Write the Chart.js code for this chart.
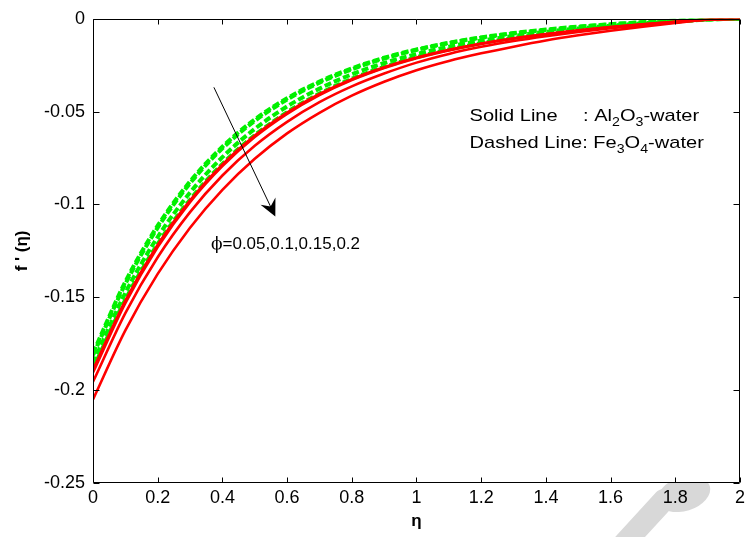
<!DOCTYPE html>
<html>
<head>
<meta charset="utf-8">
<script src="https://cdn.jsdelivr.net/npm/chart.js@4"></script>
<style>
  html, body { margin: 0; padding: 0; background: #fff; }
  canvas { display: block; }
</style>
</head>
<body>
<canvas id="velocityChart" width="749" height="537"></canvas>
<script>
// eta grid and f'(eta) values
const eta = [0, 0.1, 0.2, 0.3, 0.4, 0.5, 0.6, 0.7, 0.8, 0.9, 1.0,
             1.1, 1.2, 1.3, 1.4, 1.5, 1.6, 1.7, 1.8, 1.9, 2.0];

// Al2O3-water, solid red, phi = 0.05, 0.1, 0.15, 0.2
const alPhi005 = [-0.189, -0.1517, -0.1217, -0.0977, -0.0784, -0.0629, -0.0505, -0.0405, -0.0325, -0.0261, -0.0209,
                  -0.0167, -0.0133, -0.0105, -0.0082, -0.0062, -0.0044, -0.0029, -0.0016, -0.0004, 0];
const alPhi01  = [-0.1905, -0.1531, -0.1229, -0.0987, -0.0793, -0.0637, -0.0512, -0.0411, -0.033, -0.0265, -0.0212,
                  -0.017, -0.0135, -0.0107, -0.0084, -0.0063, -0.0045, -0.003, -0.0016, -0.0004, 0];
const alPhi015 = [-0.1955, -0.1585, -0.1284, -0.1041, -0.0844, -0.0684, -0.0555, -0.0449, -0.0364, -0.0295, -0.0236,
                  -0.0189, -0.0151, -0.012, -0.0094, -0.0071, -0.0051, -0.0034, -0.0019, -0.0005, 0];
const alPhi02  = [-0.205, -0.1678, -0.1374, -0.1125, -0.0921, -0.0754, -0.0617, -0.0506, -0.0414, -0.0339, -0.0277,
                  -0.0227, -0.0186, -0.015, -0.0117, -0.0089, -0.0064, -0.0042, -0.0022, -0.0005, 0];

// Fe3O4-water, dashed green, phi = 0.05, 0.1, 0.15, 0.2
const fePhi005 = [-0.18, -0.1416, -0.1114, -0.0876, -0.0689, -0.0542, -0.0428, -0.0338, -0.0267, -0.021, -0.0165,
                  -0.0129, -0.01, -0.0077, -0.0058, -0.0042, -0.0029, -0.0018, -0.0009, -0.0002, 0];
const fePhi01  = [-0.1812, -0.1428, -0.1125, -0.0886, -0.0698, -0.055, -0.0435, -0.0344, -0.0272, -0.0214, -0.0168,
                  -0.0131, -0.0102, -0.0079, -0.006, -0.0044, -0.003, -0.0019, -0.001, -0.0002, 0];
const fePhi015 = [-0.1854, -0.1476, -0.1175, -0.0936, -0.0745, -0.0593, -0.0472, -0.0376, -0.0299, -0.0238, -0.019,
                  -0.015, -0.0118, -0.0092, -0.007, -0.0052, -0.0037, -0.0024, -0.0013, -0.0004, 0];
const fePhi02  = [-0.1885, -0.1512, -0.1213, -0.0974, -0.0781, -0.0627, -0.0503, -0.0403, -0.0323, -0.0259, -0.0207,
                  -0.0165, -0.0131, -0.0103, -0.008, -0.006, -0.0043, -0.0028, -0.0015, -0.0004, 0];

// tick labels as printed on the axes
const xTickLabels = ['0', '0.2', '0.4', '0.6', '0.8', '1', '1.2', '1.4', '1.6', '1.8', '2'];
const yTickLabels = ['-0.25', '-0.2', '-0.15', '-0.1', '-0.05', '0'];

const FONT = '"Liberation Sans", Arial, sans-serif';

// pairs eta with a series for the linear x scale
function toPoints(values) {
    return values.map((v, i) => ({ x: eta[i], y: v }));
}

function solid(values) {
    return { data: toPoints(values), borderColor: '#ff0000', borderWidth: 2.6,
             pointRadius: 0, fill: false, cubicInterpolationMode: 'monotone' };
}
function dashed(values) {
    return { data: toPoints(values), borderColor: '#00f000', borderWidth: 4, borderDash: [7, 3],
             pointRadius: 0, fill: false, cubicInterpolationMode: 'monotone' };
}

// text with sub-scripts, slightly stretched sideways like the original figure
function drawRich(ctx, x, y, parts, size, sx) {
    ctx.save();
    ctx.translate(x, y);
    ctx.scale(sx, 1);
    let cx = 0;
    parts.forEach(([t, sub]) => {
        ctx.font = (sub ? Math.round(size * 0.72) : size) + 'px ' + FONT;
        ctx.fillText(t, cx, sub ? 5 : 0);
        cx += ctx.measureText(t).width;
    });
    ctx.restore();
}

// frame, inward ticks, watermark, arrow and annotations
const decorPlugin = {
    id: 'decor',
    beforeDraw(chart) {
        const { ctx, chartArea: a } = chart;
        ctx.save();
        ctx.fillStyle = '#ffffff';
        ctx.fillRect(0, 0, chart.width, chart.height);
        // faint watermark fragment under the x axis
        ctx.fillStyle = '#d8d8d8';
        ctx.strokeStyle = '#d8d8d8';
        ctx.lineCap = 'round';
        ctx.lineWidth = 22;
        ctx.beginPath();
        ctx.moveTo(620, 548);
        ctx.lineTo(664, 500);
        ctx.stroke();
        ctx.beginPath();
        ctx.ellipse(684, 494, 27, 17, -0.3, 0, Math.PI * 2);
        ctx.fill();
        ctx.fillStyle = '#ffffff';
        ctx.fillRect(a.left, a.top, a.right - a.left, a.bottom - a.top);
        ctx.restore();
    },
    afterDatasetsDraw(chart) {
        const { ctx, chartArea: a } = chart;
        const xs = chart.scales.x, ys = chart.scales.y;
        ctx.save();
        ctx.strokeStyle = '#000';
        ctx.lineWidth = 1;
        const L = Math.round(a.left) + 0.5, R = Math.round(a.right) - 0.5;
        const T = Math.round(a.top) + 0.5, B = Math.round(a.bottom) - 0.5;
        ctx.beginPath();
        ctx.rect(L, T, R - L, B - T);
        xs.ticks.forEach(t => {
            const px = Math.round(xs.getPixelForValue(t.value)) + 0.5;
            ctx.moveTo(px, B); ctx.lineTo(px, B - 5);
            ctx.moveTo(px, T); ctx.lineTo(px, T + 5);
        });
        ys.ticks.forEach(t => {
            const py = Math.round(ys.getPixelForValue(t.value)) + 0.5;
            ctx.moveTo(L, py); ctx.lineTo(L + 6, py);
            ctx.moveTo(R, py); ctx.lineTo(R - 6, py);
        });
        ctx.stroke();

        // arrow showing increasing phi
        const x0 = xs.getPixelForValue(0.3737), y0 = ys.getPixelForValue(-0.0369);
        const x1 = xs.getPixelForValue(0.5636), y1 = ys.getPixelForValue(-0.1065);
        const ang = Math.atan2(y1 - y0, x1 - x0);
        ctx.beginPath();
        ctx.moveTo(x0, y0);
        ctx.lineTo(x1 - 10 * Math.cos(ang), y1 - 10 * Math.sin(ang));
        ctx.stroke();
        ctx.fillStyle = '#000';
        ctx.beginPath();
        ctx.moveTo(x1, y1);
        ctx.lineTo(x1 - 19 * Math.cos(ang - 0.45), y1 - 19 * Math.sin(ang - 0.45));
        ctx.lineTo(x1 - 11 * Math.cos(ang), y1 - 11 * Math.sin(ang));
        ctx.lineTo(x1 - 19 * Math.cos(ang + 0.45), y1 - 19 * Math.sin(ang + 0.45));
        ctx.closePath();
        ctx.fill();

        // annotations
        ctx.textBaseline = 'alphabetic';
        ctx.textAlign = 'left';
        const phiX = xs.getPixelForValue(0.3645), phiY = ys.getPixelForValue(-0.1242);
        ctx.font = '17px "DejaVu Serif", serif';
        ctx.fillText('\u03d5', phiX, phiY);
        const w = ctx.measureText('\u03d5').width;
        ctx.font = '17px ' + FONT;
        ctx.fillText('=0.05,0.1,0.15,0.2', phiX + w, phiY);

        const lx = xs.getPixelForValue(1.164);
        const l1 = ys.getPixelForValue(-0.0551), l2 = ys.getPixelForValue(-0.0696);
        drawRich(ctx, lx, l1, [['Solid Line', false]], 17, 1.18);
        drawRich(ctx, xs.getPixelForValue(1.515), l1, [[': Al', false], ['2', true], ['O', false], ['3', true], ['-water', false]], 17, 1.18);
        drawRich(ctx, lx, l2, [['Dashed Line: Fe', false], ['3', true], ['O', false], ['4', true], ['-water', false]], 17, 1.18);
        ctx.restore();
    }
};

new Chart(document.getElementById('velocityChart'), {
    type: 'line',
    data: {
        datasets: [
            solid(alPhi005), solid(alPhi01), solid(alPhi015), solid(alPhi02),
            dashed(fePhi005), dashed(fePhi01), dashed(fePhi015), dashed(fePhi02)
        ]
    },
    options: {
        responsive: false,
        animation: false,
        devicePixelRatio: 1,
        layout: { autoPadding: false, padding: { left: 0, right: 3, top: 16, bottom: 0 } },
        plugins: { legend: { display: false }, tooltip: { enabled: false } },
        scales: {
            x: {
                type: 'linear', min: 0, max: 2,
                grid: { display: false, drawTicks: false },
                border: { display: false },
                afterFit: s => { s.height = 54; },
                ticks: {
                    stepSize: 0.2, padding: 4, color: '#000', maxRotation: 0,
                    font: { family: FONT, size: 18 },
                    callback: (v, i) => xTickLabels[i]
                },
                title: { display: true, text: '\u03b7', color: '#000',
                         font: { family: FONT, size: 17, weight: 'bold' }, padding: { top: 0, bottom: 5 } }
            },
            y: {
                type: 'linear', min: -0.25, max: 0,
                grid: { display: false, drawTicks: false },
                border: { display: false },
                afterFit: s => { s.width = 93; },
                ticks: {
                    stepSize: 0.05, padding: 8, color: '#000',
                    font: { family: FONT, size: 18 },
                    callback: (v, i) => yTickLabels[i]
                },
                title: { display: true, text: "f ' (\u03b7)", color: '#000',
                         font: { family: FONT, size: 17, weight: 'bold' }, padding: { top: 12, bottom: 0 } }
            }
        }
    },
    plugins: [decorPlugin]
});
</script>
</body>
</html>
